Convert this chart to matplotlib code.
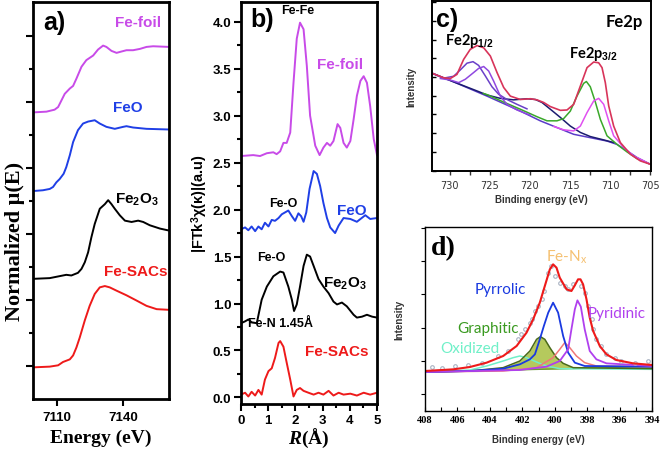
import matplotlib
matplotlib.use("Agg")
import matplotlib.pyplot as plt
from matplotlib.ticker import MultipleLocator, FixedLocator

plt.rcParams['mathtext.fontset'] = 'custom'
plt.rcParams['mathtext.rm'] = 'Liberation Sans:bold'
plt.rcParams['mathtext.bf'] = 'Liberation Sans:bold'
plt.rcParams['mathtext.it'] = 'Liberation Serif:italic:bold'

# ---------------- Panel a: XANES ----------------
a_foil_E = [7099.8, 7105.2, 7108.9, 7110.5, 7112.0, 7113.5, 7115.8, 7117.3, 7118.8, 7121.1, 7123.3, 7126.4,
            7128.6, 7130.9, 7132.4, 7134.7, 7137.0, 7139.2, 7141.5, 7144.5, 7147.6, 7150.6, 7153.6, 7160.8]
a_foil_y = [4.34, 4.35, 4.38, 4.42, 4.52, 4.62, 4.70, 4.74, 4.85, 5.03, 5.13, 5.20,
            5.29, 5.35, 5.33, 5.27, 5.24, 5.26, 5.28, 5.28, 5.30, 5.33, 5.34, 5.33]
a_feo_E = [7099.8, 7103.6, 7106.7, 7108.2, 7109.7, 7111.2, 7113.0, 7114.2, 7115.8, 7117.3, 7119.5, 7121.8,
           7124.1, 7127.1, 7129.4, 7132.4, 7136.2, 7140.0, 7141.5, 7144.5, 7150.6, 7160.8]
a_feo_y = [3.15, 3.16, 3.18, 3.21, 3.28, 3.33, 3.41, 3.51, 3.69, 3.89, 4.07, 4.17,
           4.20, 4.22, 4.17, 4.12, 4.09, 4.12, 4.13, 4.11, 4.09, 4.08]
a_fe2o3_E = [7099.8, 7106.7, 7111.2, 7114.2, 7116.5, 7119.5, 7121.1, 7122.6, 7124.1, 7125.6, 7127.1, 7129.4,
             7131.7, 7133.2, 7134.7, 7136.2, 7138.5, 7140.8, 7143.8, 7146.8, 7149.1, 7152.1, 7156.7, 7160.8]
a_fe2o3_y = [1.82, 1.83, 1.86, 1.88, 1.87, 1.91, 1.97, 2.07, 2.22, 2.45, 2.65, 2.88,
             2.95, 3.01, 2.95, 2.88, 2.78, 2.70, 2.68, 2.70, 2.68, 2.63, 2.58, 2.55]
a_sac_E = [7099.8, 7106.7, 7110.5, 7112.7, 7115.8, 7117.3, 7118.8, 7120.3, 7122.6, 7124.8, 7127.1, 7129.4,
           7131.7, 7133.9, 7137.0, 7141.5, 7146.1, 7150.6, 7155.2, 7160.8]
a_sac_y = [0.48, 0.49, 0.51, 0.56, 0.60, 0.66, 0.78, 0.93, 1.19, 1.41, 1.59, 1.69,
           1.71, 1.69, 1.64, 1.57, 1.49, 1.41, 1.36, 1.35]

# ---------------- Panel b: FT-EXAFS ----------------
b_foil_R = [0.0, 0.45, 0.70, 0.95, 1.19, 1.31, 1.44, 1.56, 1.68, 1.81, 1.93, 2.05, 2.17, 2.30, 2.42, 2.54,
            2.73, 2.89, 3.03, 3.16, 3.28, 3.40, 3.55, 3.65, 3.77, 3.89, 4.02, 4.14, 4.26, 4.39, 4.51, 4.63,
            4.75, 4.88, 5.0]
b_foil_y = [2.57, 2.58, 2.57, 2.60, 2.61, 2.59, 2.62, 2.71, 2.71, 2.82, 3.35, 3.82, 3.99, 3.92, 3.53, 3.00,
            2.68, 2.58, 2.66, 2.71, 2.68, 2.73, 2.91, 2.87, 2.71, 2.66, 2.73, 2.96, 3.21, 3.37, 3.42, 3.35,
            3.10, 2.75, 2.58]
b_feo_R = [0.0, 0.15, 0.27, 0.39, 0.52, 0.64, 0.76, 0.88, 1.01, 1.13, 1.25, 1.38, 1.50, 1.62, 1.74, 1.87,
           1.99, 2.11, 2.21, 2.30, 2.40, 2.52, 2.67, 2.79, 2.91, 3.03, 3.16, 3.28, 3.46, 3.59, 3.77, 4.02,
           4.26, 4.57, 4.75, 5.0]
b_feo_y = [1.79, 1.81, 1.78, 1.82, 1.77, 1.82, 1.79, 1.86, 1.82, 1.89, 1.88, 1.91, 1.95, 1.97, 1.99, 1.93,
           1.88, 1.96, 1.93, 1.87, 1.97, 2.22, 2.41, 2.38, 2.25, 2.07, 1.91, 1.81, 1.75, 1.83, 1.91, 1.90,
           1.87, 1.94, 1.90, 1.91]
b_fe2o3_R = [0.0, 0.15, 0.27, 0.39, 0.58, 0.76, 0.95, 1.19, 1.44, 1.56, 1.74, 1.87, 1.95, 2.05, 2.17, 2.30,
             2.42, 2.54, 2.67, 2.85, 3.03, 3.22, 3.40, 3.53, 3.71, 3.89, 4.14, 4.26, 4.45, 4.63, 4.82, 5.0]
b_fe2o3_y = [0.79, 0.81, 0.83, 0.80, 0.79, 1.04, 1.18, 1.29, 1.34, 1.33, 1.18, 1.04, 0.92, 0.99, 1.18, 1.40,
             1.52, 1.50, 1.40, 1.26, 1.18, 1.11, 1.02, 0.99, 1.01, 0.97, 0.88, 0.85, 0.86, 0.88, 0.86, 0.85]
b_sac_R = [0.0, 0.15, 0.27, 0.39, 0.52, 0.64, 0.76, 0.88, 1.01, 1.13, 1.25, 1.38, 1.44, 1.56, 1.68, 1.81,
           1.93, 2.05, 2.17, 2.30, 2.48, 2.67, 2.85, 3.03, 3.22, 3.40, 3.59, 3.77, 4.02, 4.26, 4.51, 4.75, 5.0]
b_sac_y = [0.03, 0.05, 0.01, 0.06, 0.02, 0.08, 0.03, 0.19, 0.28, 0.31, 0.42, 0.58, 0.60, 0.54, 0.37, 0.19,
           0.01, 0.08, 0.10, 0.07, 0.05, 0.03, 0.05, 0.03, 0.07, 0.02, 0.05, 0.03, 0.04, 0.02, 0.05, 0.03, 0.05]

# ---------------- Panel c: Fe2p XPS ----------------
c_env_E = [732.41, 730.75, 729.92, 729.09, 728.26, 727.43, 726.59, 725.76, 724.93, 724.10, 723.27, 722.44,
           721.20, 719.95, 719.12, 718.29, 717.46, 716.21, 715.38, 714.55, 713.72, 712.89, 712.06, 711.44,
           711.02, 710.61, 710.19, 709.57, 708.74, 707.49, 706.25, 705.0]
c_env_y = [2.12, 1.98, 1.96, 2.07, 2.47, 2.74, 2.84, 2.78, 2.56, 2.12, 1.72, 1.49,
           1.40, 1.42, 1.39, 1.32, 1.21, 1.11, 1.12, 1.27, 1.76, 2.25, 2.40, 2.38,
           2.25, 1.85, 1.23, 0.69, 0.25, -0.06, -0.24, -0.33]
c_bg_E = [732.41, 729.50, 725.35, 721.20, 718.71, 716.63, 714.55, 712.48, 710.40, 709.15, 707.91, 706.66, 705.0]
c_bg_y = [2.12, 1.87, 1.49, 1.09, 0.83, 0.65, 0.47, 0.38, 0.29, 0.20, 0.03, -0.15, -0.33]
c_p1_E = [732.41, 730.75, 729.50, 728.67, 727.84, 727.09, 726.39, 725.56, 724.73, 723.90, 722.86, 721.61, 720.37]
c_p1_y = [2.12, 1.97, 2.02, 2.19, 2.37, 2.41, 2.31, 2.03, 1.74, 1.54, 1.40, 1.27, 1.15]
c_p2_E = [731.16, 729.92, 728.88, 728.05, 727.01, 726.39, 725.76, 725.14, 724.52, 723.69, 722.86, 721.61, 719.95]
c_p2_y = [1.96, 1.92, 1.85, 1.94, 2.12, 2.23, 2.28, 2.16, 1.89, 1.49, 1.27, 1.12, 0.98]
c_sat_E = [732.41, 729.50, 726.50, 725.35, 723.69, 722.03, 720.37, 719.33, 718.50, 717.46, 716.21, 714.97,
           713.72, 712.48, 710.81, 709.57]
c_sat_y = [2.12, 1.87, 1.62, 1.52, 1.43, 1.39, 1.42, 1.40, 1.32, 1.14, 0.92, 0.69,
           0.52, 0.41, 0.32, 0.25]
c_g_E = [725.80, 725.35, 723.27, 721.20, 719.12, 717.87, 716.63, 715.80, 714.97, 714.14, 713.31, 712.97,
         712.48, 711.85, 711.23, 710.40, 709.15, 707.91, 706.66, 705.0]
c_g_y = [1.56, 1.53, 1.33, 1.14, 0.94, 0.83, 0.83, 0.89, 1.09, 1.49, 1.83, 1.88,
         1.74, 1.33, 0.87, 0.43, 0.20, 0.0, -0.18, -0.33]
c_m_E = [717.04, 715.80, 714.55, 713.72, 712.89, 712.06, 711.44, 710.81, 710.19, 709.57, 708.32, 707.08, 705.0]
c_m_y = [0.68, 0.59, 0.56, 0.69, 1.05, 1.36, 1.43, 1.27, 0.83, 0.43, 0.12, -0.11, -0.33]

# ---------------- Panel d: N1s XPS ----------------
d_pts_E = [407.59, 406.97, 406.15, 405.33, 404.51, 403.48, 402.87, 402.25, 402.05, 401.84, 401.53, 401.43,
           401.23, 401.02, 400.81, 400.67, 400.40, 400.20, 399.99, 399.69, 399.38, 399.17, 398.86, 398.35,
           398.15, 397.94, 397.73, 397.63, 397.43, 397.12, 396.81, 396.30, 395.89, 395.07, 394.25]
d_pts_y = [0.83, 0.80, 0.85, 0.87, 0.95, 1.15, 1.30, 1.65, 1.80, 1.95, 2.15, 2.25,
           2.50, 2.65, 2.85, 3.10, 3.65, 3.85, 3.55, 3.35, 3.25, 3.15, 3.30, 3.25,
           3.05, 2.65, 2.25, 1.95, 1.65, 1.45, 1.20, 1.10, 1.00, 0.95, 1.00]
d_env_E = [408.0, 406.25, 405.23, 404.20, 403.18, 402.35, 401.74, 401.33, 400.92, 400.61, 400.30, 400.10,
           399.89, 399.69, 399.27, 398.97, 398.76, 398.56, 398.41, 398.25, 398.04, 397.84, 397.63, 397.22,
           396.81, 396.20, 395.17, 394.0]
d_env_y = [0.70, 0.75, 0.82, 0.95, 1.15, 1.45, 1.85, 2.25, 2.75, 3.25, 3.75, 3.90,
           3.80, 3.50, 3.15, 3.10, 3.27, 3.45, 3.45, 3.30, 2.85, 2.30, 1.90, 1.45,
           1.20, 1.03, 0.93, 0.88]
d_pyrr_E = [408.0, 405.23, 403.18, 402.15, 401.53, 401.22, 400.92, 400.67, 400.40, 400.10, 399.79, 399.48,
            399.17, 398.76, 398.15, 394.0]
d_pyrr_y = [0.67, 0.70, 0.77, 0.90, 1.05, 1.20, 1.65, 2.05, 2.45, 2.75, 2.45, 1.75, 1.25, 0.95, 0.85, 0.83]
d_pyri_E = [408.0, 402.15, 400.51, 399.69, 399.17, 398.97, 398.76, 398.60, 398.39, 398.15, 397.84, 397.43,
            396.81, 394.0]
d_pyri_y = [0.67, 0.73, 0.83, 1.00, 1.35, 1.95, 2.55, 2.82, 2.63, 1.95, 1.30, 1.05, 0.93, 0.85]
d_fen_E = [408.0, 403.18, 401.12, 400.10, 399.69, 399.38, 399.07, 398.66, 398.15, 397.43, 394.0]
d_fen_y = [0.67, 0.70, 0.80, 1.10, 1.35, 1.55, 1.40, 1.15, 0.95, 0.85, 0.83]
d_gra_E = [408.0, 405.23, 403.18, 402.15, 401.53, 401.12, 400.88, 400.61, 400.30, 399.89, 399.48, 398.86, 394.0]
d_gra_y = [0.67, 0.70, 0.80, 1.00, 1.30, 1.65, 1.73, 1.65, 1.40, 1.10, 0.93, 0.80, 0.77]
d_oxi_E = [408.0, 405.23, 404.20, 403.18, 402.56, 402.15, 401.74, 401.12, 400.51, 399.69, 394.0]
d_oxi_y = [0.67, 0.73, 0.85, 1.00, 1.10, 1.15, 1.10, 0.97, 0.85, 0.77, 0.75]
d_base_E = [408.0, 394.0]
d_base_y = [0.67, 0.83]

c_xticks = [730, 725, 720, 715, 710, 705]
d_xticks = [408, 406, 404, 402, 400, 398, 396, 394]

VIOLET = '#c84be8'
BLUE = '#1f3fe6'
RED = '#ee1a1a'
SANS = 'Liberation Sans'
SERIF = 'Liberation Serif'

W, H = 662, 456
fig = plt.figure(figsize=(W / 100, H / 100), dpi=100)

def box(l, t, r, b):
    return [l / W, 1 - b / H, (r - l) / W, (b - t) / H]

# ---- a ----
ax = fig.add_axes(box(33, 3, 169, 400))
ax.plot(a_foil_E, a_foil_y, color=VIOLET, lw=1.4)
ax.plot(a_feo_E, a_feo_y, color=BLUE, lw=1.4)
ax.plot(a_fe2o3_E, a_fe2o3_y, color='black', lw=1.4)
ax.plot(a_sac_E, a_sac_y, color=RED, lw=1.4)
ax.set_xlim(7099.1, 7160.8)
ax.set_ylim(0, 6.01)
ax.xaxis.set_major_locator(FixedLocator([7110, 7140]))
ax.yaxis.set_major_locator(FixedLocator([0.5, 1.5, 2.5, 3.5, 4.5, 5.5]))
ax.yaxis.set_minor_locator(FixedLocator([1, 2, 3, 4, 5]))
ax.set_yticklabels([])
ax.tick_params(axis='both', which='major', direction='out', length=5, width=1.5)
ax.tick_params(axis='both', which='minor', direction='out', length=3, width=1.5)
ax.tick_params(axis='x', labelsize=9.5)
for lbl in ax.get_xticklabels():
    lbl.set_fontweight('bold'); lbl.set_family(SANS)
for s in ax.spines.values():
    s.set_linewidth(2)
ax.set_xlabel('Energy (eV)', family=SERIF, fontweight='bold', fontsize=14, labelpad=4)
ax.set_ylabel('Normalized μ(E)', family=SERIF, fontweight='bold', fontsize=16)
ax.yaxis.set_label_coords(-0.06, 0.40)
ax.text(7109, 5.71, 'a)', family=SANS, fontweight='bold', fontsize=18, ha='center', va='center')
ax.text(7146.8, 5.71, 'Fe-foil', color=VIOLET, family=SANS, fontweight='bold', fontsize=11, ha='center', va='center')
ax.text(7142.3, 4.42, 'FeO', color=BLUE, family=SANS, fontweight='bold', fontsize=11, ha='center', va='center')
ax.text(7146.4, 3.03, r'Fe$_2$O$_3$', color='black', family=SANS, fontweight='bold', fontsize=11, ha='center', va='center')
ax.text(7145.5, 1.94, 'Fe-SACs', color=RED, family=SANS, fontweight='bold', fontsize=11, ha='center', va='center')

# ---- b ----
bx = fig.add_axes(box(241, 3, 377, 405))
bx.plot(b_foil_R, b_foil_y, color=VIOLET, lw=1.4)
bx.plot(b_feo_R, b_feo_y, color=BLUE, lw=1.4)
bx.plot(b_fe2o3_R, b_fe2o3_y, color='black', lw=1.4)
bx.plot(b_sac_R, b_sac_y, color=RED, lw=1.4)
bx.set_xlim(0, 5)
bx.set_ylim(-0.07, 4.21)
bx.xaxis.set_major_locator(MultipleLocator(1))
bx.xaxis.set_minor_locator(MultipleLocator(0.5))
bx.yaxis.set_major_locator(MultipleLocator(0.5))
bx.yaxis.set_minor_locator(MultipleLocator(0.25))
bx.tick_params(axis='both', which='major', direction='out', length=5, width=1.5, labelsize=9.5, pad=2)
bx.tick_params(axis='both', which='minor', direction='out', length=3, width=1.5)
bx.yaxis.set_major_formatter(matplotlib.ticker.FormatStrFormatter('%.1f'))
for lbl in bx.get_xticklabels() + bx.get_yticklabels():
    lbl.set_fontweight('bold'); lbl.set_family(SANS)
for s in bx.spines.values():
    s.set_linewidth(2)
bx.set_xlabel(r'$\it{R}$(Å)', family=SERIF, fontweight='bold', fontsize=14, labelpad=0)
bx.set_ylabel(r'|FTk$^3$χ(κ)|(a.u)', family=SANS, fontweight='bold', fontsize=10.5, labelpad=2)
bx.text(0.77, 4.03, 'b)', family=SANS, fontweight='bold', fontsize=18, ha='center', va='center')
bx.text(2.1, 4.12, 'Fe-Fe', family=SANS, fontweight='bold', fontsize=9, ha='center', va='center')
bx.text(3.65, 3.55, 'Fe-foil', color=VIOLET, family=SANS, fontweight='bold', fontsize=11, ha='center', va='center')
bx.text(1.56, 2.07, 'Fe-O', family=SANS, fontweight='bold', fontsize=9, ha='center', va='center')
bx.text(4.08, 2.0, 'FeO', color=BLUE, family=SANS, fontweight='bold', fontsize=11, ha='center', va='center')
bx.text(1.13, 1.49, 'Fe-O', family=SANS, fontweight='bold', fontsize=9, ha='center', va='center')
bx.text(3.83, 1.22, r'Fe$_2$O$_3$', family=SANS, fontweight='bold', fontsize=11, ha='center', va='center')
bx.text(1.44, 0.79, 'Fe-N 1.45Å', family=SANS, fontweight='bold', fontsize=9, ha='center', va='center')
bx.text(3.53, 0.49, 'Fe-SACs', color=RED, family=SANS, fontweight='bold', fontsize=11, ha='center', va='center')

# ---- c ----
cx = fig.add_axes(box(432, 2, 651, 172))
cx.plot(c_bg_E, c_bg_y, color='#5a3cc8', lw=1.1)
cx.plot(c_sat_E, c_sat_y, color='#1c1c70', lw=1.1)
cx.plot(c_g_E, c_g_y, color='#3aa82a', lw=1.1)
cx.plot(c_m_E, c_m_y, color='#e050f0', lw=1.1)
cx.plot(c_p1_E, c_p1_y, color='#6a40c8', lw=1.1)
cx.plot(c_p2_E, c_p2_y, color='#9048e0', lw=1.1)
cx.plot(c_env_E, c_env_y, color='#d8345a', lw=1.2)
cx.set_xlim(732.2, 704.92)
cx.set_ylim(-0.51, 4.03)
cx.xaxis.set_major_locator(FixedLocator(c_xticks))
cx.xaxis.set_minor_locator(MultipleLocator(2.5))
cx.yaxis.set_major_locator(MultipleLocator(1))
cx.yaxis.set_minor_locator(MultipleLocator(0.5))
cx.set_yticklabels([])
cx.tick_params(axis='x', which='both', direction='out', length=3, width=1, labelsize=7, colors='#333333')
cx.tick_params(axis='y', which='both', direction='in', length=3, width=1)
for s in cx.spines.values():
    s.set_linewidth(1.4)
cx.set_xlabel('Binding energy (eV)', family=SANS, fontweight='bold', fontsize=7, color='#333333', labelpad=3)
cx.set_ylabel('Intensity', family=SANS, fontweight='bold', fontsize=7, color='#333333', labelpad=8)
cx.text(730.3, 3.55, 'c)', family=SANS, fontweight='bold', fontsize=18, ha='center', va='center')
cx.text(708.3, 3.49, 'Fe2p', family='Lato', fontweight='bold', fontsize=12, ha='center', va='center')
cx.text(727.6, 3.0, r'Fe2p$_{1/2}$', family='Lato', fontweight='bold', fontsize=10.5, ha='center', va='center')
cx.text(712.1, 2.65, r'Fe2p$_{3/2}$', family='Lato', fontweight='bold', fontsize=10.5, ha='center', va='center')

# ---- d ----
dx = fig.add_axes(box(425, 228, 652, 412))
dx.fill_between(d_gra_E, d_gra_y, [0.67 + (408 - e) / 14 * 0.16 for e in d_gra_E],
                color='#a8c040', alpha=0.85, lw=0)
dx.plot(d_base_E, d_base_y, color='#6a9a30', lw=1.0)
dx.plot(d_oxi_E, d_oxi_y, color='#70f0c8', lw=1.1)
dx.plot(d_gra_E, d_gra_y, color='#4a6a1a', lw=1.1)
dx.plot(d_fen_E, d_fen_y, color='#f07878', lw=1.1)
dx.plot(d_pyrr_E, d_pyrr_y, color='#1a3ae0', lw=1.3)
dx.plot(d_pyri_E, d_pyri_y, color='#b040ee', lw=1.3)
dx.plot(d_pts_E, d_pts_y, 'o', ms=2.6, mfc='none', mec='#a8b2c2', mew=0.8)
dx.plot(d_env_E, d_env_y, color='#ee1a1a', lw=1.5)
dx.set_xlim(408, 394)
dx.set_ylim(-0.5, 5.02)
dx.xaxis.set_major_locator(FixedLocator(d_xticks))
dx.xaxis.set_minor_locator(MultipleLocator(1))
dx.yaxis.set_major_locator(MultipleLocator(1))
dx.set_yticklabels([])
dx.tick_params(axis='x', which='both', direction='in', length=3, width=0.8, labelsize=7.5, pad=3)
dx.tick_params(axis='y', direction='out', length=3, width=0.8)
for lbl in dx.get_xticklabels():
    lbl.set_family(SERIF); lbl.set_fontweight('bold')
for s in dx.spines.values():
    s.set_linewidth(1.0)
dx.set_xlabel('Binding energy (eV)', family=SANS, fontweight='bold', fontsize=7, color='#333333', labelpad=7)
dx.set_ylabel('Intensity', family=SANS, fontweight='bold', fontsize=7, color='#333333', labelpad=8)
dx.text(406.9, 4.4, 'd)', family=SERIF, fontweight='bold', fontsize=20, ha='center', va='center')
dx.text(399.27, 4.15, r'Fe-N$_\mathregular{x}$', color='#f5c070', family='Lato', fontsize=11, ha='center', va='center')
dx.text(403.38, 3.15, 'Pyrrolic', color='#1a3ae0', family='Lato', fontsize=11, ha='center', va='center')
dx.text(396.2, 2.43, 'Pyridinic', color='#b040ee', family='Lato', fontsize=11, ha='center', va='center')
dx.text(404.1, 2.0, 'Graphitic', color='#3a9a20', family='Lato', fontsize=11, ha='center', va='center')
dx.text(405.23, 1.4, 'Oxidized', color='#70f0c8', family='Lato', fontsize=11, ha='center', va='center')

fig.savefig('out.png', dpi=100)
